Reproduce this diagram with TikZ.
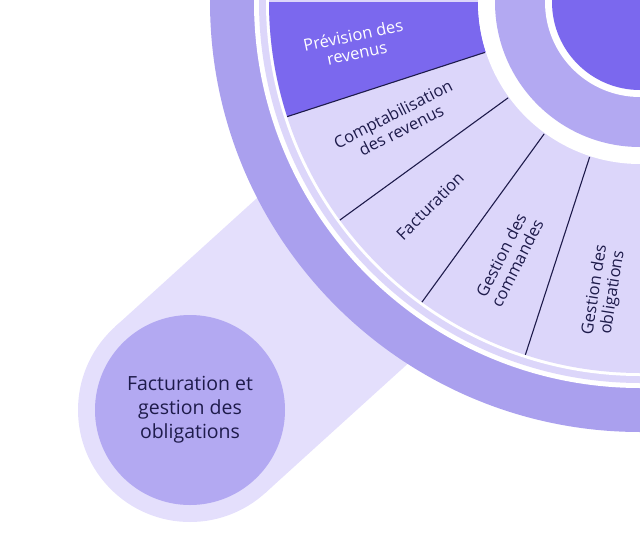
\documentclass[tikz,border=0pt]{standalone}
\usepackage{fontspec}
\setmainfont{Open Sans}
\usetikzlibrary{calc}
\definecolor{ringc}{HTML}{AAA0EE}
\definecolor{pale}{HTML}{E4DFFC}
\definecolor{lav}{HTML}{DCD6FA}
\definecolor{midc}{HTML}{B3A9F2}
\definecolor{dark}{HTML}{7B68EE}
\definecolor{navy}{HTML}{1E1B4B}
\tikzset{lbl/.style={text=navy,font=\fontsize{16.5}{18}\selectfont,align=center,inner sep=1pt},
divider/.style={draw=navy,line width=1.1pt}}
\begin{document}
\begin{tikzpicture}[x=1pt,y=1pt]
\useasboundingbox (0,0) rectangle (640,-533);
\clip (0,0) rectangle (640,-533);
\coordinate (c) at (640,-2);
\coordinate (h) at (190,-410);
\draw[pale,line width=224pt] (h) -- ($(h)!0.6!(c)$);
\fill[pale] (h) circle (112);
\node[circle,fill=midc,minimum size=190pt,text=navy,font=\fontsize{19.5}{24}\selectfont,align=center] (hub) at (h) {Facturation et\\gestion des\\obligations};
\fill[ringc] (c) circle (430);
\fill[white] (c) circle (386);
\fill[lav] (c) circle (381);
\fill[white] (c) circle (374);
\fill[lav] (c) circle (371);
\fill[dark] ($(c)+(180:162)$) -- ($(c)+(180:371)$) arc[start angle=180,end angle=198,radius=371] -- ($(c)+(198:162)$) arc[start angle=198,end angle=180,radius=162] -- cycle;
\fill[white] (c) circle (162);
\fill[midc] (c) circle (145);
\fill[white] (c) circle (95);
\fill[dark] (c) circle (88);
\foreach \a in {198,216,234,252}
  \draw[divider] ($(c)+(\a:163)$) -- ($(c)+(\a:371)$);
\node[lbl,text=white,rotate=12] (p) at (355,-44) {Prévision des\\revenus};
\node[lbl,rotate=27] (cr) at (397,-122) {Comptabilisation\\des revenus};
\node[lbl,rotate=45] (f) at (430,-206) {Facturation};
\node[lbl,rotate=63] (gc) at (509,-259) {Gestion des\\commandes};
\node[lbl,rotate=81] (go) at (604,-291) {Gestion des\\obligations};
\end{tikzpicture}
\end{document}
